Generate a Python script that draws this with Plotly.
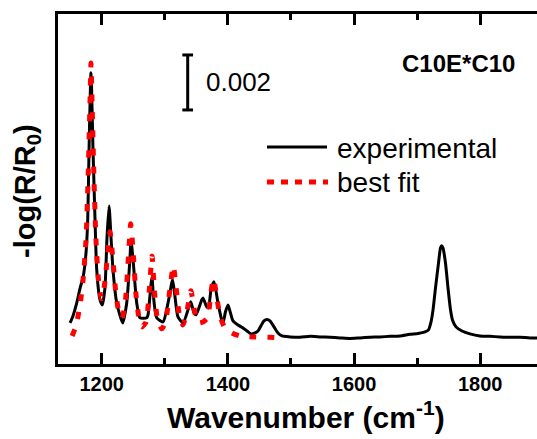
import plotly.graph_objects as go

# Experimental spectrum (wavenumber, -log(R/R0))
exp_wn = [1149.8, 1154.5, 1160.4, 1165.6, 1170.8, 1175.1, 1177.8, 1179.9, 1183.0, 1186.2,
          1189.4, 1192.1, 1197.3, 1201.0, 1205.2, 1208.4, 1211.6, 1214.7, 1217.9, 1223.8,
          1233.3, 1239.6, 1244.9, 1246.4, 1250.1, 1255.5, 1260.7, 1271.3, 1273.4, 1277.7,
          1279.7, 1281.8, 1287.2, 1297.2, 1305.1, 1311.0, 1312.5, 1316.2, 1320.9, 1328.9,
          1336.8, 1341.1, 1346.3, 1349.5, 1358.5, 1360.6, 1366.4, 1369.3, 1373.2, 1378.0,
          1384.3, 1390.2, 1392.3, 1396.2, 1400.2, 1404.1, 1408.1, 1416.0, 1424.0, 1430.3,
          1436.6, 1443.0, 1447.7, 1452.5, 1457.2, 1462.0, 1466.7, 1473.1, 1479.4, 1485.8,
          1498.4, 1514.3, 1530.2, 1546.0, 1561.9, 1577.7, 1593.6, 1609.4, 1625.3, 1641.1,
          1657.0, 1672.8, 1688.7, 1701.4, 1712.5, 1718.0, 1722.0, 1725.2, 1729.1, 1733.9,
          1737.0, 1738.9, 1741.0, 1744.9, 1748.9, 1752.9, 1756.0, 1761.6, 1771.1, 1783.8,
          1799.6, 1815.5, 1831.3, 1847.2, 1863.0, 1878.9, 1894.7]
exp_abs = [0.000545, 0.00080, 0.00127, 0.00180, 0.00225, 0.00309, 0.00429, 0.00684, 0.00964, 0.00684,
           0.00429, 0.00247, 0.00138, 0.00120, 0.00185, 0.00367, 0.00480, 0.00367, 0.00247, 0.00127,
           0.000545, 0.00127, 0.00295, 0.00356, 0.00273, 0.00127, 0.00073, 0.00073, 0.00084, 0.00185,
           0.00222, 0.00156, 0.00073, 0.00058, 0.00127, 0.00200, 0.00211, 0.00149, 0.00076, 0.000545,
           0.00102, 0.00131, 0.00091, 0.00084, 0.00138, 0.00145, 0.00113, 0.00109, 0.00175, 0.00204,
           0.00127, 0.00065, 0.000545, 0.00095, 0.00120, 0.00091, 0.00062, 0.00047, 0.00036, 0.00025,
           0.000145, 0.00018, 0.00025, 0.00044, 0.00062, 0.00067, 0.00062, 0.00040, 0.00018, 0.00007,
           0.000036, 0.00002, 0.000055, 0.000036, 0.00002, 0.0, -0.00002, 0.0, 0.00002, 0.000036,
           0.000055, 0.00007, 0.00013, 0.00016, 0.00022, 0.00029, 0.00058, 0.00102, 0.00182, 0.00273,
           0.00327, 0.00335, 0.00327, 0.00273, 0.00182, 0.00102, 0.00065, 0.00040, 0.00025, 0.000145,
           0.00007, 0.000055, 0.000036, 0.00002, 0.00002, 0.0, 0.0]

# Best fit curve
fit_wn = [1153.1, 1159.3, 1165.6, 1170.4, 1175.1, 1178.3, 1181.5, 1183.0, 1184.6, 1187.8,
          1190.9, 1194.9, 1199.7, 1204.4, 1209.2, 1213.2, 1217.1, 1221.9, 1227.4, 1232.2,
          1237.7, 1242.5, 1246.0, 1249.6, 1254.4, 1259.1, 1263.9, 1270.2, 1275.5, 1279.7,
          1283.4, 1288.1, 1295.3, 1301.6, 1308.0, 1313.5, 1318.3, 1323.0, 1328.6, 1335.0,
          1341.3, 1346.8, 1352.6, 1360.6, 1367.7, 1373.2, 1377.2, 1381.9, 1387.5, 1395.4,
          1406.5, 1419.2, 1443.0, 1466.7, 1484.2]
fit_abs = [0.00007, 0.00044, 0.00120, 0.00211, 0.00356, 0.00574, 0.00865, 0.01000, 0.00865, 0.00574,
           0.00356, 0.00211, 0.00142, 0.00193, 0.00302, 0.00385, 0.00302, 0.00175, 0.00091, 0.00073,
           0.00138, 0.00302, 0.00415, 0.00320, 0.00156, 0.00073, 0.00040, 0.00058, 0.00175, 0.00298,
           0.00175, 0.00073, 0.00033, 0.00065, 0.00175, 0.00262, 0.00175, 0.00084, 0.00047, 0.00095,
           0.00171, 0.00102, 0.000545, 0.00058, 0.00073, 0.00167, 0.00215, 0.00156, 0.00080, 0.00036,
           0.00018, 0.00007, 0.000036, 0.00002, 0.0]

x_range = [1130.7, 1890]
y_range = [-0.00095, 0.01178]
major_ticks = [1200, 1400, 1600, 1800]
minor_ticks = [1300, 1500, 1700]
scale_value = 0.002
scale_x = 1336.3
scale_y0 = 0.00829

FONT = "Liberation Sans, Arial, Helvetica, sans-serif"

fig = go.Figure()
fig.add_trace(go.Scatter(x=exp_wn, y=exp_abs, mode="lines",
                         line=dict(color="black", width=3, shape="spline", smoothing=0.6),
                         showlegend=False, hoverinfo="skip"))
fig.add_trace(go.Scatter(x=fit_wn, y=fit_abs, mode="lines",
                         line=dict(color="#ff0000", width=5, dash="7px,11px", shape="spline", smoothing=0.6),
                         showlegend=False, hoverinfo="skip"))

# scale bar
fig.add_shape(type="line", xref="x", yref="y", x0=scale_x, x1=scale_x, y0=scale_y0, y1=scale_y0 + scale_value,
              line=dict(color="black", width=3))
for yy in (scale_y0, scale_y0 + scale_value):
    fig.add_shape(type="line", xref="x", yref="y", x0=scale_x - 8.5, x1=scale_x + 8.5, y0=yy, y1=yy,
                  line=dict(color="black", width=3))
fig.add_annotation(x=1361.5, y=scale_y0 + scale_value / 2, xref="x", yref="y", text="0.002",
                   showarrow=False, xanchor="left", yanchor="middle",
                   font=dict(family=FONT, size=26, color="black"))

fig.add_annotation(x=1765.5, y=0.00998, xref="x", yref="y", text="C10E*C10",
                   showarrow=False, xanchor="center", yanchor="middle",
                   font=dict(family=FONT, size=24, color="black", weight="bold"))

# manual legend
W = 479.0
H = 350.0
def px(xp):
    return (xp - 58) / W
def py(yp):
    return (364 - yp) / H
fig.add_shape(type="line", xref="paper", yref="paper", x0=px(267), x1=px(327), y0=py(147), y1=py(147),
              line=dict(color="black", width=3))
fig.add_shape(type="line", xref="paper", yref="paper", x0=px(267), x1=px(328), y0=py(182), y1=py(182),
              line=dict(color="#ff0000", width=5, dash="7px,7px"))
fig.add_annotation(x=px(335), y=py(148), xref="paper", yref="paper", text="experimental",
                   showarrow=False, xanchor="left", yanchor="middle",
                   font=dict(family=FONT, size=28, color="black"))
fig.add_annotation(x=px(335), y=py(182), xref="paper", yref="paper", text="best fit",
                   showarrow=False, xanchor="left", yanchor="middle",
                   font=dict(family=FONT, size=28, color="black"))

# axis titles
fig.add_annotation(x=px(306), y=py(415), xref="paper", yref="paper",
                   text="Wavenumber (cm<sup>-1</sup>)",
                   showarrow=False, xanchor="center", yanchor="middle",
                   font=dict(family=FONT, size=30, color="black", weight="bold"))
fig.add_annotation(x=px(27), y=py(191), xref="paper", yref="paper",
                   text="-log(R/R<sub>0</sub>)", textangle=-90,
                   showarrow=False, xanchor="center", yanchor="middle",
                   font=dict(family=FONT, size=29, color="black", weight="bold"))

fig.update_layout(
    width=537, height=439,
    margin=dict(l=58, r=0, t=14, b=75),
    paper_bgcolor="white", plot_bgcolor="white",
    xaxis=dict(range=x_range, showgrid=False, zeroline=False,
               showline=True, linecolor="black", linewidth=3, mirror="ticks",
               ticks="inside", ticklen=11, tickwidth=2.5, tickcolor="black",
               tickvals=major_ticks,
               tickfont=dict(family=FONT, size=20, color="black", weight="bold"),
               minor=dict(tickvals=minor_ticks, ticks="inside", ticklen=6, tickwidth=2.5, tickcolor="black",
                          showgrid=False)),
    yaxis=dict(range=y_range, showgrid=False, zeroline=False,
               showline=True, linecolor="black", linewidth=3,
               ticks="", showticklabels=False),
)

fig.write_html("out.html")
